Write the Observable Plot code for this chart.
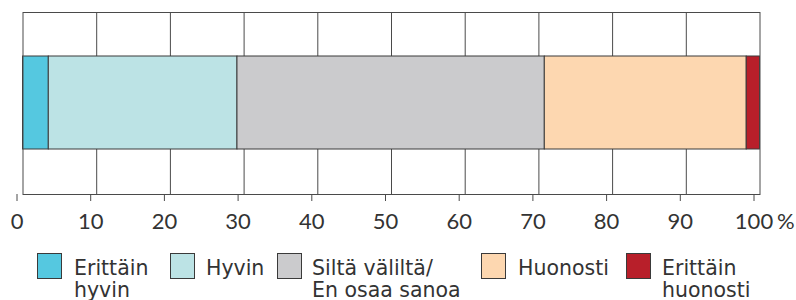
<!DOCTYPE html>
<html>
<head>
<meta charset="utf-8">
<script src="https://cdn.jsdelivr.net/npm/d3@7"></script>
<script src="https://cdn.jsdelivr.net/npm/@observablehq/plot@0.6"></script>
<style>
  body { margin: 0; background: #fff; }
  #wrap { position: relative; width: 796px; height: 300px; overflow: hidden; font-family: Lato, "Noto Sans", sans-serif; color: #333; }
  #chart svg { display: block; }
  .lg-sw { position: absolute; width: 23px; height: 24px; border: 1px solid #3a3a3a; box-sizing: content-box; }
  .lg-tx { position: absolute; font-family: "DejaVu Sans", sans-serif; font-size: 20.5px; line-height: 22px; white-space: nowrap; color: #333; }
</style>
</head>
<body>
<div id="wrap"><div id="chart"></div></div>
<script>
// ---- data ----
const categories = ["Erittäin hyvin", "Hyvin", "Siltä väliltä/ En osaa sanoa", "Huonosti", "Erittäin huonosti"];
const legendLines = [["Erittäin", "hyvin"], ["Hyvin"], ["Siltä väliltä/", "En osaa sanoa"], ["Huonosti"], ["Erittäin", "huonosti"]];
const values = [3.5, 25.6, 41.7, 27.4, 1.8];
const colors = ["#55c8e0", "#bce3e5", "#cbcbcd", "#fdd7b0", "#b81f2a"];
const tickValues = [0, 10, 20, 30, 40, 50, 60, 70, 80, 90, 100];
const tickLabels = ["0", "10", "20", "30", "40", "50", "60", "70", "80", "90", "100"];
const unitLabel = "%";

// ---- layout ----
const W = 796, H = 240;
const table = categories.map((c, i) => ({category: c, value: values[i], row: "all"}));
const labelOf = new Map(tickValues.map((t, i) => [t, tickLabels[i]]));

const chart = Plot.plot({
  width: W,
  height: H,
  marginLeft: 22.5,
  marginRight: 36.5,
  marginTop: 12,
  marginBottom: H - 194,
  style: {fontFamily: "Lato, 'Noto Sans', sans-serif", color: "#333", background: "#fff"},
  x: {domain: [0, 100], label: null},
  y: {domain: ["all"], padding: 0.32, axis: null, label: null},
  color: {domain: categories, range: colors},
  marks: [
    Plot.gridX(tickValues.slice(1, -1), {stroke: "#4a4a4a", strokeOpacity: 1, strokeWidth: 1}),
    Plot.barX(table, Plot.stackX({x: "value", y: "row", fill: "category", stroke: "#3a3a3a", strokeWidth: 1, order: null, insetLeft: 0, insetRight: 0})),
    Plot.frame({stroke: "#4a4a4a", strokeWidth: 1}),
    Plot.axisX(tickValues, {
      anchor: "bottom",
      label: null,
      tickSize: 7,
      tickPadding: 12,
      stroke: "#4a4a4a",
      fontSize: 22,
      fill: "#333",
      dx: -6,
      tickFormat: d => labelOf.get(d)
    }),
    Plot.text([100], {
      x: d => d,
      text: () => unitLabel,
      frameAnchor: "bottom",
      lineAnchor: "top",
      textAnchor: "start",
      dx: 17,
      dy: 19,
      fontSize: 22,
      fill: "#333"
    })
  ]
});
document.getElementById("chart").appendChild(chart);

// ---- legend ----
const wrap = document.getElementById("wrap");
const swatchX = [37, 170, 277, 481, 626];
const textX = [74, 206, 312, 518, 662];
categories.forEach((c, i) => {
  const sw = document.createElement("div");
  sw.className = "lg-sw";
  sw.style.left = swatchX[i] + "px";
  sw.style.top = "253px";
  sw.style.background = colors[i];
  wrap.appendChild(sw);
  const tx = document.createElement("div");
  tx.className = "lg-tx";
  tx.style.left = textX[i] + "px";
  tx.style.top = "257px";
  tx.innerHTML = legendLines[i].join("<br>");
  wrap.appendChild(tx);
});
</script>
</body>
</html>
